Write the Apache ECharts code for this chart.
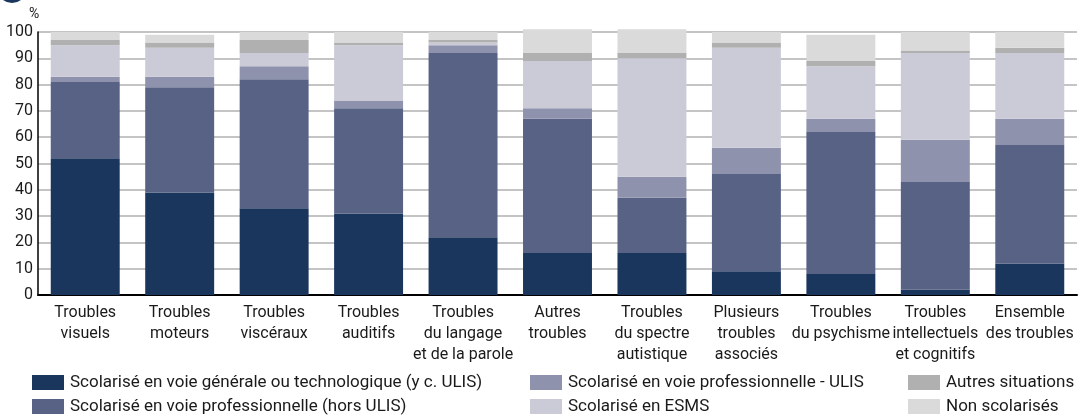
<!DOCTYPE html>
<html>
<head>
<meta charset="utf-8">
<script src="https://cdn.jsdelivr.net/npm/echarts@6/dist/echarts.min.js"></script>
<style>
  html, body { margin: 0; padding: 0; background: #fff; }
  #chart { width: 1080px; height: 415px; }
</style>
</head>
<body>
<div id="chart"></div>
<script>
var categories = [
    'Troubles\nvisuels', 'Troubles\nmoteurs', 'Troubles\nviscéraux', 'Troubles\nauditifs',
    'Troubles\ndu langage\net de la parole', 'Autres\ntroubles', 'Troubles\ndu spectre\nautistique',
    'Plusieurs\ntroubles\nassociés', 'Troubles\ndu psychisme', 'Troubles\nintellectuels\net cognitifs',
    'Ensemble\ndes troubles'
];
var generale  = [52, 39, 33, 31, 22, 16, 16, 9, 8, 2, 12];
var horsUlis  = [29, 40, 49, 40, 70, 51, 21, 37, 54, 41, 45];
var proUlis   = [2, 4, 5, 3, 3, 4, 8, 10, 5, 16, 10];
var esms      = [12, 11, 5, 21, 1, 18, 45, 38, 20, 33, 25];
var autres    = [2, 2, 5, 1, 1, 3, 2, 2, 2, 1, 2];
var nonScol   = [3, 3, 3, 4, 3, 9, 9, 4, 10, 7, 6];

var seriesNames = [
    'Scolarisé en voie générale ou technologique (y c. ULIS)',
    'Scolarisé en voie professionnelle (hors ULIS)',
    'Scolarisé en voie professionnelle - ULIS',
    'Scolarisé en ESMS',
    'Autres situations',
    'Non scolarisés'
];
var seriesData = [generale, horsUlis, proUlis, esms, autres, nonScol];
var colors = ['#1b365d', '#576285', '#8e92ac', '#cbcbd8', '#b0b0b0', '#dadada'];

var font = 'Roboto, sans-serif';

// one legend per column, two rows each
function legendBlock(left, names) {
    return {
        orient: 'vertical',
        left: left,
        top: 374,
        padding: 0,
        itemWidth: 32,
        itemHeight: 15,
        itemGap: 7,
        icon: 'rect',
        selectedMode: false,
        data: names,
        textStyle: { fontFamily: font, fontSize: 17, lineHeight: 16, color: '#1a1a1a', padding: [0, 0, 0, 1] }
    };
}

var option = {
    animation: false,
    backgroundColor: '#fff',
    color: colors,
    grid: { left: 38, right: 3, top: 32, bottom: 120 },
    legend: [
        legendBlock(32, [seriesNames[0], seriesNames[1]]),
        legendBlock(530, [seriesNames[2], seriesNames[3]]),
        legendBlock(908, [seriesNames[4], seriesNames[5]])
    ],
    graphic: [
        { type: 'circle', shape: { cx: 12, cy: -12, r: 15 }, style: { fill: '#1b365d' } },
        { type: 'text', left: 29, top: 7, style: { text: '%', font: '14px ' + font, fill: '#1a1a1a' } }
    ],
    xAxis: {
        type: 'category',
        data: categories,
        axisLine: { lineStyle: { color: '#000', width: 2 } },
        axisTick: { show: false },
        axisLabel: {
            interval: 0,
            margin: 7,
            fontFamily: font,
            fontSize: 16,
            lineHeight: 21,
            color: '#1a1a1a'
        }
    },
    yAxis: {
        type: 'value',
        min: 0,
        max: 100,
        interval: 10,
        axisLine: { show: true, lineStyle: { color: '#000', width: 1.5 } },
        axisTick: { show: false },
        axisLabel: { fontFamily: font, fontSize: 16, color: '#1a1a1a', margin: 5 },
        splitLine: { lineStyle: { color: '#c4c4c4', width: 2 } }
    },
    series: seriesNames.map(function (name, i) {
        return {
            name: name,
            type: 'bar',
            stack: 'total',
            clip: false,
            barCategoryGap: '27%',
            data: seriesData[i]
        };
    })
};

var chart = echarts.init(document.getElementById('chart'));
chart.setOption(option);
</script>
</body>
</html>
